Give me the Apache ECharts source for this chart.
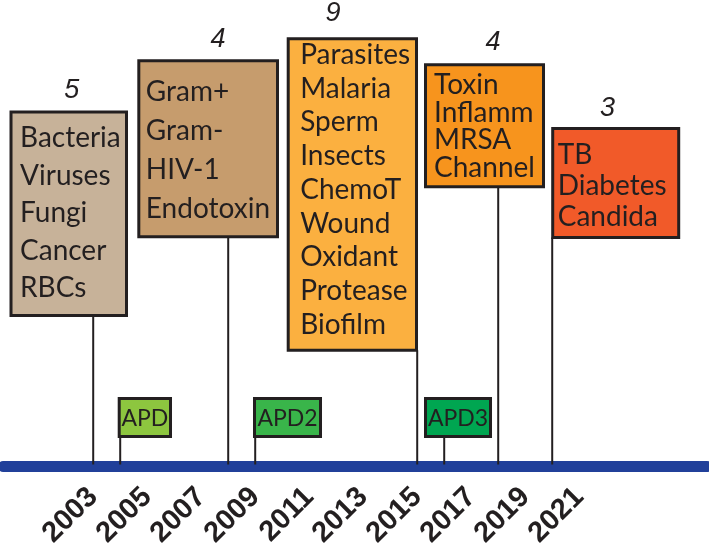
<!DOCTYPE html>
<html><head><meta charset="utf-8">
<script src="https://cdn.jsdelivr.net/npm/echarts@6/dist/echarts.min.js"></script>
<style>html,body{margin:0;padding:0;background:#fff}#chart{width:709px;height:548px}</style>
</head><body><div id="chart"></div>
<script>
// ---- data ----
const tickYears = [2003, 2005, 2007, 2009, 2011, 2013, 2015, 2017, 2019, 2021];
const eventYears = [2003, 2008, 2015, 2018, 2020];
const eventCounts = [5, 4, 9, 4, 3];
const eventTopics = [
  ['Bacteria', 'Viruses', 'Fungi', 'Cancer', 'RBCs'],
  ['Gram+', 'Gram-', 'HIV-1', 'Endotoxin'],
  ['Parasites', 'Malaria', 'Sperm', 'Insects', 'ChemoT', 'Wound', 'Oxidant', 'Protease', 'Biofilm'],
  ['Toxin', 'Inflamm', 'MRSA', 'Channel'],
  ['TB', 'Diabetes', 'Candida']
];
const dbYears = [2004, 2009, 2016];
const dbNames = ['APD', 'APD2', 'APD3'];

// ---- layout / style (pixel offsets relative to each event's stem) ----
const boxLayout = [
  { dx: -82.2, w: 115.5, top: 354.5, bottom: 151, tx: 9, ty: 26, lh: 37.5, cdx: 60.7, cdy: -22, fill: '#c7b299' },
  { dx: -89.4, w: 138.7, top: 405.7, bottom: 229.7, tx: 7, ty: 31, lh: 38.9, cdx: 79.2, cdy: -21, fill: '#c69c6d' },
  { dx: -129, w: 128.3, top: 427.7, bottom: 116.3, tx: 12, ty: 16, lh: 33.75, cdx: 44.8, cdy: -25, fill: '#fbb040' },
  { dx: -72.7, w: 118, top: 401.7, bottom: 279.7, tx: 8.5, ty: 20, lh: 27.8, cdx: 67.5, cdy: -22, fill: '#f7941d' },
  { dx: 0.5, w: 126, top: 338, bottom: 229, tx: 5, ty: 26.5, lh: 30.8, cdx: 54.8, cdy: -20.5, fill: '#f15a29' }
];
const dbLayout = [
  { dx: -1, w: 51.3, fill: '#8dc63f' },
  { dx: -0.7, w: 66, fill: '#39b54a' },
  { dx: -18.7, w: 65, fill: '#00a651' }
];
const DB_TOP = 68, DB_BOTTOM = 30;
const INK = '#231f20';
const BOX_FONT = '28px Lato';

function renderBox(params, api) {
  const i = params.dataIndex;
  const L = boxLayout[i];
  const yr = api.value(0);
  const base = api.coord([yr, 0]);
  const x0 = base[0];
  const yTop = api.coord([yr, L.top])[1];
  const yBot = api.coord([yr, L.bottom])[1];
  const left = x0 + L.dx;
  const children = [
    { type: 'line', shape: { x1: x0, y1: yBot, x2: x0, y2: base[1] - 2 }, style: { stroke: INK, lineWidth: 2 } },
    { type: 'rect', shape: { x: left, y: yTop, width: L.w, height: yBot - yTop }, style: { fill: L.fill, stroke: INK, lineWidth: 3 } },
    { type: 'text', style: { text: String(api.value(1)), x: left + L.cdx, y: yTop + L.cdy, font: 'italic 27px "Liberation Sans"', fill: INK, align: 'center', verticalAlign: 'middle' } }
  ];
  eventTopics[i].forEach(function (t, k) {
    children.push({ type: 'text', style: { text: t, x: left + L.tx, y: yTop + L.ty + k * L.lh, font: BOX_FONT, fill: INK, align: 'left', verticalAlign: 'middle' } });
  });
  return { type: 'group', children: children };
}

function renderDb(params, api) {
  const i = params.dataIndex;
  const L = dbLayout[i];
  const yr = api.value(0);
  const base = api.coord([yr, 0]);
  const x0 = base[0];
  const yTop = api.coord([yr, DB_TOP])[1];
  const yBot = api.coord([yr, DB_BOTTOM])[1];
  const left = x0 + L.dx;
  return {
    type: 'group', children: [
      { type: 'line', shape: { x1: x0, y1: yBot, x2: x0, y2: base[1] - 2 }, style: { stroke: INK, lineWidth: 2 } },
      { type: 'rect', shape: { x: left, y: yTop, width: L.w, height: yBot - yTop }, style: { fill: L.fill, stroke: INK, lineWidth: 3 } },
      { type: 'text', style: { text: dbNames[i], x: left + L.w / 2, y: (yTop + yBot) / 2 + 1, font: '23px Lato', fill: INK, align: 'center', verticalAlign: 'middle' } }
    ]
  };
}

const chart = echarts.init(document.getElementById('chart'), null, { renderer: 'canvas' });
chart.setOption({
  animation: false,
  backgroundColor: '#ffffff',
  grid: { left: 3, right: 2, top: 0, bottom: 81.5, outerBoundsMode: 'none', containLabel: false },
  xAxis: {
    type: 'value', min: 1999.659, max: 2025.733,
    axisLine: { show: true, lineStyle: { color: '#21409a', width: 11 } },
    axisTick: { show: false },
    splitLine: { show: false },
    axisLabel: {
      customValues: tickYears, rotate: 45, margin: 26,
      fontSize: 29, fontWeight: 'bold', fontFamily: 'Liberation Sans', color: INK,
      formatter: function (v) { return String(v); }
    }
  },
  yAxis: { type: 'value', min: 0, max: 466.5, show: false, splitLine: { show: false } },
  series: [
    { type: 'custom', renderItem: renderDb, data: dbYears.map(function (y) { return [y, 0]; }), clip: false, z: 3 },
    { type: 'custom', renderItem: renderBox, data: eventYears.map(function (y, i) { return [y, eventCounts[i]]; }), clip: false, z: 4 }
  ]
});
</script>
</body></html>
